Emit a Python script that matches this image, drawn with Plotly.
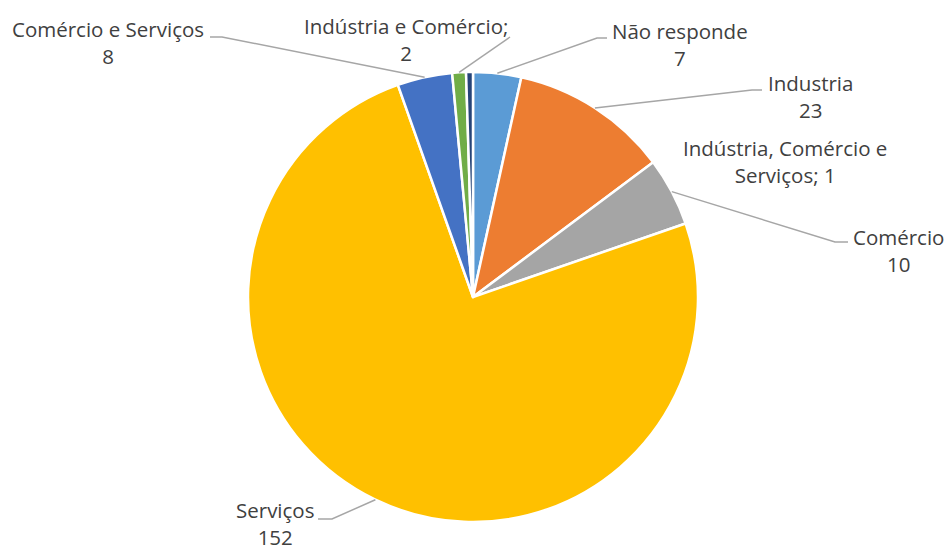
import math
import plotly.graph_objects as go

# ---- data ----
categories = ["Não responde", "Industria", "Comércio", "Serviços",
              "Comércio e Serviços", "Indústria e Comércio;",
              "Indústria, Comércio e Serviços;"]
values = [7, 23, 10, 152, 8, 2, 1]
colors = ["#5B9BD5", "#ED7D31", "#A5A5A5", "#FFC000", "#4472C4", "#70AD47", "#264478"]

# label texts (as shown on chart)
label_texts = ["Não responde<br>7", "Industria<br>23", "Comércio<br>10", "Serviços<br>152",
               "Comércio e Serviços<br>8", "Indústria e Comércio;<br>2",
               "Indústria, Comércio e<br>Serviços; 1"]

# ---- layout (pixels) ----
W, H = 949, 552
CX, CY, R = 473, 297, 225

# label block centers (px) and leader-line elbows/ends (px); None = no line
label_pos = [(680, 44), (810, 96), (898, 250), (275, 523), (108, 42), (406, 40), (785, 161)]
leader_pts = [[(597, 38), (607, 38)], [(752, 90), (762, 90)], [(835, 242), (848, 242)],
              [(332, 519), (318, 519)], [(222, 37), (210, 37)], [(510, 37)], None]

def px(x):
    return x / W

def py(y):
    return 1 - y / H

fig = go.Figure(go.Pie(
    labels=categories, values=values, sort=False, direction="clockwise", rotation=0,
    marker=dict(colors=colors, line=dict(color="white", width=2.5)),
    textinfo="none", hoverinfo="label+value", showlegend=False,
    domain=dict(x=[px(CX - R), px(CX + R)], y=[py(CY + R), py(CY - R)]),
))

total = sum(values)
cum = 0
annotations = []
shapes = []
for i, v in enumerate(values):
    mid = (cum + v / 2) / total * 2 * math.pi
    cum += v
    sx = CX + R * math.sin(mid)
    sy = CY - R * math.cos(mid)
    lx, ly = label_pos[i]
    annotations.append(dict(x=px(lx), y=py(ly), xref="paper", yref="paper",
                            text=label_texts[i], showarrow=False,
                            xanchor="center", yanchor="middle",
                            font=dict(family="Open Sans", size=20.5, color="#404040")))
    if leader_pts[i]:
        pts = [(sx, sy)] + leader_pts[i]
        path = "M " + " L ".join(f"{px(x)},{py(y)}" for x, y in pts)
        shapes.append(dict(type="path", xref="paper", yref="paper", path=path,
                           line=dict(color="#A6A6A6", width=1.5)))

fig.update_layout(
    width=W, height=H, margin=dict(l=0, r=0, t=0, b=0),
    paper_bgcolor="white", plot_bgcolor="white",
    annotations=annotations, shapes=shapes,
)
fig.write_html("out.html", config={"displayModeBar": False},
               post_script="document.body.style.margin='0';document.body.style.overflow='hidden';")
